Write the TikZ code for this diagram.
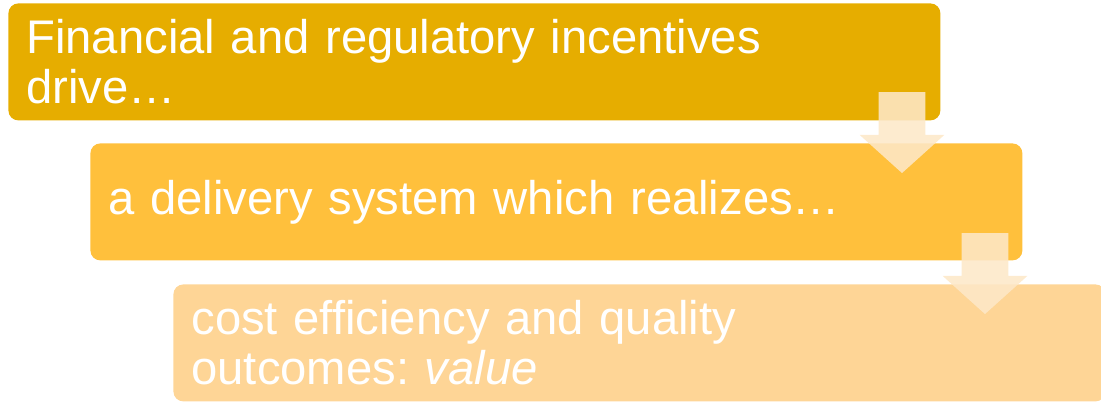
\documentclass[tikz,border=0pt]{standalone}
\usepackage{fontspec}
\setmainfont{Liberation Sans}
\usetikzlibrary{shapes.arrows}

\definecolor{goldA}{RGB}{230,173,0}
\definecolor{goldB}{RGB}{255,192,60}
\definecolor{goldC}{RGB}{254,213,150}
\definecolor{arrowfill}{RGB}{253,232,200}

\tikzset{
  stepbox/.style={rectangle, rounded corners=5pt, anchor=north west,
    minimum width=466pt, minimum height=58.5pt, inner xsep=9pt, inner ysep=0pt,
    text=white, align=left, text width=448pt,
    font=\fontsize{23.6}{25}\selectfont},
  downarrow/.style={single arrow, shape border rotate=270, fill=arrowfill, fill opacity=0.87,
    minimum height=40.5pt, minimum width=42pt, single arrow head extend=9.5pt,
    single arrow tip angle=96, inner sep=0pt, text width=23pt},
}

\begin{document}
\frenchspacing
\begin{tikzpicture}[x=0.5pt,y=-0.5pt]
                \useasboundingbox (0,0) rectangle (1101,404);

                \node[stepbox, fill=goldA] (drive) at (8,3) {Financial and regulatory incentives\\drive\dots};
                \node[stepbox, fill=goldB] (system) at (90,143) {a delivery system which realizes\dots};
                \node[stepbox, fill=goldC, minimum width=464pt] (value) at (173,284) {cost efficiency and quality\\outcomes: \textit{value}};

                \node[downarrow] (arr1) at (902,122) {};
                \node[downarrow] (arr2) at (985,263) {};
            \end{tikzpicture}
\end{document}
